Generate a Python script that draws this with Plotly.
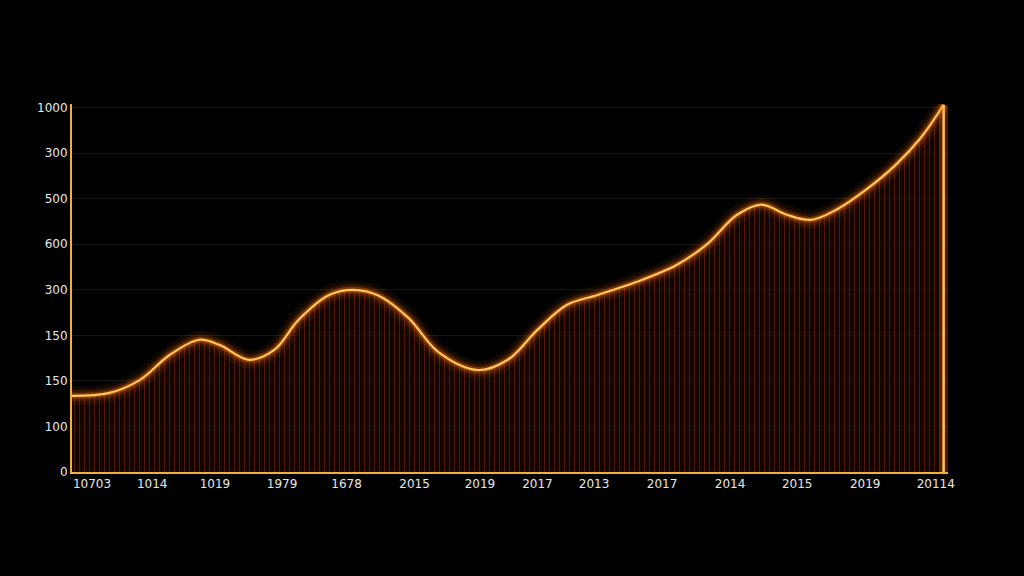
import plotly.graph_objects as go

# curve (x in 0-100 units across the axis)
x_pos = [0, 4.3, 7.8, 11.2, 14.6, 16.9, 20.3, 23.2, 26, 29.5, 32.3, 35.2, 38.6, 42, 46.6,
         50, 53.4, 56.8, 60.3, 64.8, 69.4, 72.8, 76.3, 79.1, 82, 84.8, 87.7, 91.1, 94.5, 97.4, 100]
values = [209, 217, 253, 321, 363, 349, 308, 335, 418, 486, 500, 484, 423, 330, 280,
          308, 390, 459, 486, 522, 569, 624, 706, 734, 706, 692, 720, 775, 843, 918, 1008]

x_tick_pos = [2.3, 9.2, 16.4, 24.1, 31.5, 39.3, 46.8, 53.4, 59.9, 67.7, 75.5, 83.2, 91, 99.1]
x_tick_text = ["10703", "1014", "1019", "1979", "1678", "2015", "2019", "2017", "2013",
               "2017", "2014", "2015", "2019", "20114"]
y_tick_pos = [0, 125, 250, 375, 500, 625, 750, 875, 1000]
y_tick_text = ["0", "100", "150", "150", "300", "600", "500", "300", "1000"]

fig = go.Figure()

# filled area with vertical hatching
fig.add_trace(go.Scatter(
    x=x_pos, y=values, mode="lines", line=dict(width=0, shape="spline", smoothing=1.0),
    fill="tozeroy", fillcolor="rgba(90,25,5,0.45)",
    fillpattern=dict(shape="|", fgcolor="rgba(210,70,25,0.6)", bgcolor="rgba(35,8,0,0.6)",
                     size=5, solidity=0.2),
    hoverinfo="skip", showlegend=False))

# glow layers
for w, a in [(18, 0.08), (11, 0.15), (6, 0.35)]:
    fig.add_trace(go.Scatter(
        x=x_pos, y=values, mode="lines",
        line=dict(width=w, color=f"rgba(255,110,0,{a})", shape="spline", smoothing=1.0),
        hoverinfo="skip", showlegend=False))

fig.add_trace(go.Scatter(
    x=x_pos, y=values, mode="lines",
    line=dict(width=2.2, color="#ffc860", shape="spline", smoothing=1.0),
    showlegend=False))

# vertical drop at the right end
for w, a, c in [(8, 0.3, "255,110,0"), (2.5, 1, "255,190,90")]:
    fig.add_trace(go.Scatter(
        x=[x_pos[-1], x_pos[-1]], y=[values[-1], 0], mode="lines",
        line=dict(width=w, color=f"rgba({c},{a})"), hoverinfo="skip", showlegend=False))

fig.update_layout(
    width=1024, height=576,
    paper_bgcolor="black", plot_bgcolor="black",
    margin=dict(l=72, r=76, t=104, b=104),
    font=dict(family="DejaVu Sans", size=12, color="#e8e8e8"),
    xaxis=dict(range=[0, 100.5], tickvals=x_tick_pos, ticktext=x_tick_text,
               showgrid=False, zeroline=False, showline=True, linecolor="#f0b040",
               linewidth=2, ticks=""),
    yaxis=dict(range=[0, 1010], tickvals=y_tick_pos, ticktext=y_tick_text,
               showgrid=True, gridcolor="rgba(255,255,255,0.08)", zeroline=False,
               showline=True, linecolor="#f0b040", linewidth=2, ticks=""),
)

fig.write_html("out.html", config={"displayModeBar": False},
               post_script="document.body.style.margin='0';document.body.style.background='black';")
